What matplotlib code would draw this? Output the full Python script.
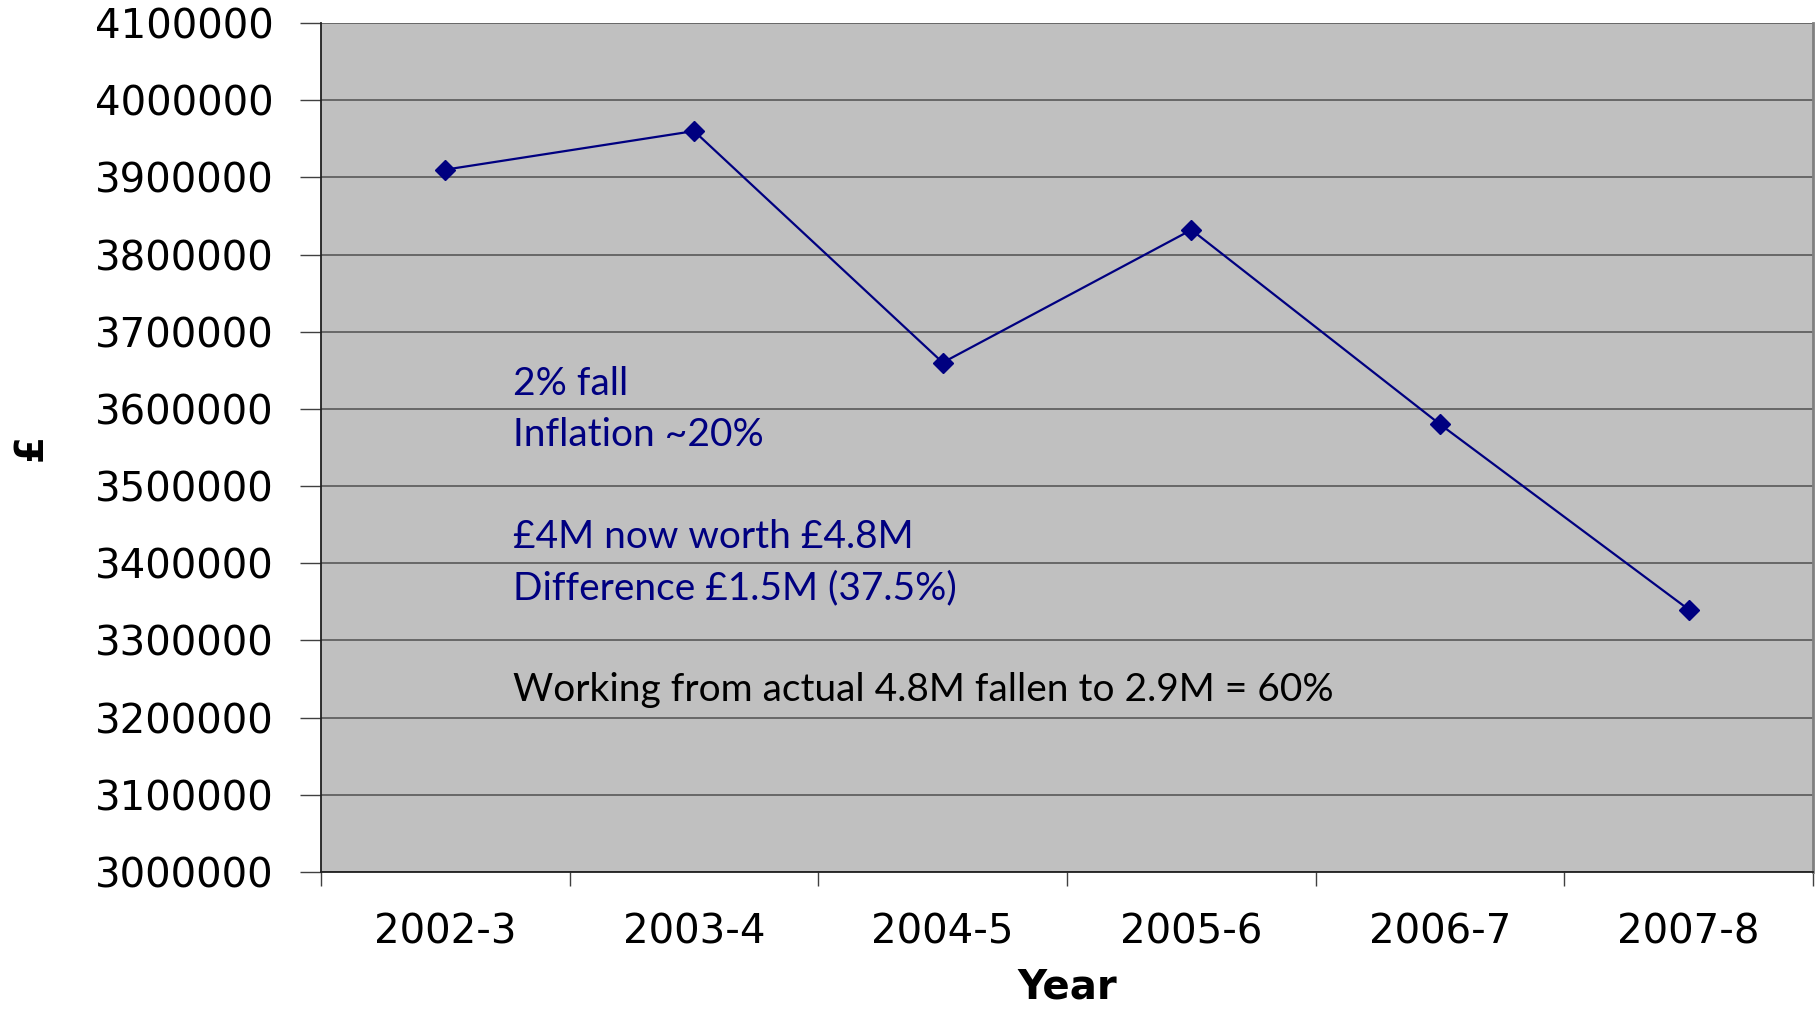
import matplotlib.pyplot as plt

# values
years = ["2002-3", "2003-4", "2004-5", "2005-6", "2006-7", "2007-8"]
funding = [3910000, 3960000, 3660000, 3832000, 3580000, 3340000]
y_ticks = list(range(3000000, 4100001, 100000))

notes_blue = ["2% fall", "Inflation ~20%", "", "£4M now worth £4.8M", "Difference £1.5M (37.5%)"]
note_black = "Working from actual 4.8M fallen to 2.9M = 60%"

navy = "#000080"

fig = plt.figure(figsize=(18.2, 10.09), dpi=100)
ax = fig.add_axes([0.1764, 0.1358, 0.8198, 0.8414])
ax.set_facecolor("#c0c0c0")

x = list(range(len(years)))
ax.plot(x, funding, color=navy, linewidth=1.6, marker="D", markersize=10, zorder=3)

ax.set_xlim(-0.5, len(years) - 0.5)
ax.set_ylim(3000000, 4100000)
ax.set_yticks(y_ticks)
ax.set_yticklabels([str(v) for v in y_ticks], fontsize=29, family="DejaVu Sans")
ax.yaxis.grid(True, color="#606060", linewidth=1.3)
ax.set_axisbelow(True)

# category axis: ticks between categories, labels at centres
ax.set_xticks([i - 0.5 for i in range(len(years) + 1)])
ax.set_xticklabels([])
ax.set_xticks(x, minor=True)
ax.set_xticklabels(years, minor=True, fontsize=29, family="DejaVu Sans")
ax.tick_params(axis="x", which="major", length=10, width=1, color="#404040")
ax.tick_params(axis="x", which="minor", length=0, pad=29)
ax.tick_params(axis="y", length=15, width=1, color="#404040", pad=19)

for s in ["left", "bottom"]:
    ax.spines[s].set_color("#202020")
    ax.spines[s].set_linewidth(1.3)
ax.spines["top"].set_visible(False)
ax.spines["right"].set_color("#808080")
ax.spines["right"].set_linewidth(2)

ax.set_xlabel("Year", fontsize=29, fontweight="bold", family="DejaVu Sans", labelpad=11)
ax.set_ylabel("£", fontsize=28, fontweight="bold", family="DejaVu Sans")
ax.yaxis.set_label_coords(-0.182, 0.50)

# annotation block
y0 = 395
for i, line in enumerate(notes_blue):
    fig.text(513 / 1820, 1 - (y0 + i * 51) / 1009, line, color=navy, fontsize=28,
             family="Lato", va="baseline")
fig.text(513 / 1820, 1 - (y0 + 6 * 51) / 1009, note_black, color="black", fontsize=28,
         family="Lato", va="baseline")

fig.savefig("out.png", dpi=100)
